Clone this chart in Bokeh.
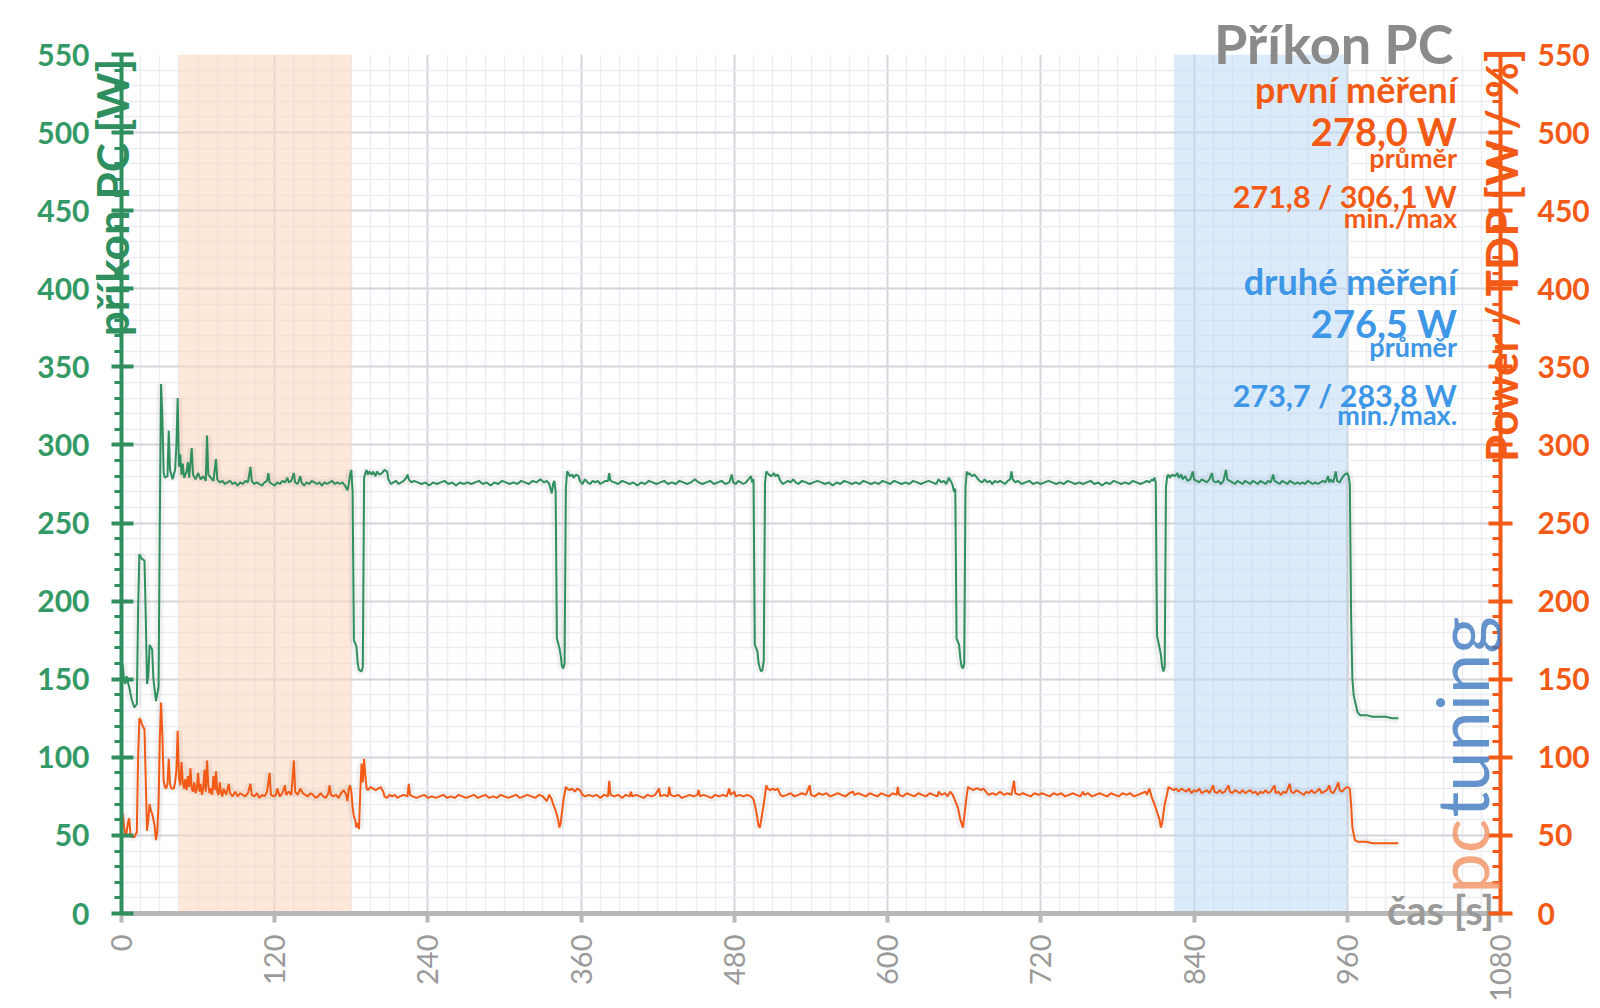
import math
from bokeh.plotting import figure
from bokeh.models import (LinearAxis, Range1d, SingleIntervalTicker, BoxAnnotation, Label)
from bokeh.embed import file_html
from bokeh.resources import INLINE

# ---------------- data ----------------
x_ticks_interval = 120
y_ticks_interval = 50
x_tick_labels = ["0", "120", "240", "360", "480", "600", "720", "840", "960", "1080"]

first_window = [45, 180]      # orange band, "první měření"
second_window = [825, 960]    # blue band, "druhé měření"

pc_t = [
    0, 1, 2, 3, 4, 5, 6, 8, 10, 12,
    13, 14, 16, 18, 19, 20, 21, 22, 24, 25,
    27, 29, 30, 31, 32, 33, 34, 36, 37, 38,
    40, 42, 43, 44, 45, 46, 47, 48, 49, 51,
    52, 53, 55, 56, 58, 60, 62, 64, 66, 67,
    68, 70, 72, 74, 75, 77, 79, 81, 83, 85,
    87, 89, 91, 93, 95, 97, 99, 101, 102, 104,
    106, 108, 110, 112, 114, 115, 116, 118, 120, 122,
    124, 126, 128, 130, 131, 133, 135, 136, 138, 140,
    141, 143, 145, 147, 149, 151, 153, 155, 157, 159,
    161, 163, 165, 167, 169, 171, 173, 175, 177, 178,
    179, 180, 181, 182, 184, 185, 186, 188, 189, 190,
    191, 192, 193, 194, 196, 197, 199, 200, 202, 204,
    206, 208, 209, 211, 213, 215, 217, 219, 221, 223,
    224, 225, 227, 229, 232, 235, 238, 241, 244, 247,
    250, 253, 256, 259, 262, 265, 268, 271, 274, 277,
    280, 283, 286, 289, 292, 295, 298, 301, 304, 307,
    310, 313, 316, 319, 322, 325, 328, 331, 333, 335,
    336, 337, 338, 339, 340, 341, 343, 344, 345, 346,
    347, 348, 349, 350, 351, 353, 354, 356, 358, 359,
    361, 363, 365, 367, 369, 371, 373, 375, 377, 379,
    381, 382, 383, 386, 389, 392, 395, 398, 401, 404,
    407, 410, 413, 416, 419, 422, 425, 428, 431, 434,
    437, 440, 443, 446, 449, 452, 455, 458, 461, 464,
    467, 470, 473, 476, 478, 479, 481, 483, 485, 487,
    489, 491, 493, 494, 495, 496, 498, 499, 500, 501,
    502, 503, 504, 505, 506, 507, 509, 511, 512, 514,
    516, 518, 520, 522, 524, 526, 528, 530, 533, 536,
    539, 542, 545, 548, 551, 554, 557, 560, 563, 566,
    569, 572, 575, 578, 581, 584, 587, 590, 593, 596,
    599, 602, 605, 608, 611, 614, 617, 620, 623, 626,
    629, 632, 635, 638, 640, 642, 644, 646, 648, 650,
    651, 652, 653, 654, 656, 657, 658, 659, 660, 661,
    662, 663, 664, 666, 668, 670, 672, 674, 676, 678,
    680, 682, 684, 686, 688, 690, 692, 694, 696, 697,
    698, 700, 702, 705, 708, 711, 714, 717, 720, 723,
    726, 729, 732, 735, 738, 741, 744, 747, 750, 753,
    756, 759, 762, 765, 768, 771, 774, 777, 780, 783,
    786, 789, 792, 795, 798, 801, 803, 805, 807, 808,
    809, 810, 811, 812, 814, 815, 816, 817, 818, 819,
    820, 821, 823, 825, 827, 828, 830, 831, 833, 835,
    837, 839, 840, 842, 844, 846, 848, 850, 852, 854,
    855, 857, 859, 861, 863, 865, 866, 868, 870, 872,
    874, 876, 878, 880, 882, 884, 886, 888, 890, 892,
    894, 896, 898, 900, 902, 903, 905, 907, 909, 911,
    913, 915, 917, 919, 921, 923, 925, 927, 929, 931,
    933, 935, 937, 939, 941, 943, 945, 946, 947, 949,
    951, 952, 954, 956, 958, 960, 961, 962, 963, 964,
    965, 966, 968, 970, 975, 980, 985, 990, 995, 1000,
]
pc_w = [
    158, 159, 150, 147, 152, 148, 145, 137, 132, 134,
    195, 230, 227, 226, 190, 147, 152, 172, 169, 150,
    136, 145, 250, 339, 318, 282, 279, 280, 309, 284,
    278, 284, 300, 330, 286, 294, 281, 288, 279, 283,
    289, 279, 298, 281, 278, 282, 278, 280, 277, 306,
    281, 279, 277, 291, 278, 276, 277, 275, 276, 277,
    275, 276, 274, 276, 275, 277, 276, 286, 277, 275,
    276, 275, 274, 276, 277, 282, 276, 275, 274, 276,
    275, 277, 276, 279, 276, 277, 282, 276, 275, 280,
    276, 274, 276, 275, 277, 276, 275, 276, 274, 276,
    275, 276, 277, 275, 276, 275, 276, 274, 271, 275,
    281, 284, 270, 175, 171, 160, 156, 155, 158, 279,
    282, 284, 281, 283, 281, 283, 280, 283, 281, 282,
    284, 283, 278, 275, 276, 277, 275, 276, 277, 279,
    281, 278, 276, 277, 276, 275, 276, 274, 276, 275,
    276, 277, 275, 276, 274, 276, 275, 276, 275, 276,
    277, 275, 276, 274, 276, 275, 277, 276, 275, 276,
    275, 277, 276, 275, 277, 276, 278, 276, 277, 275,
    272, 269, 275, 277, 270, 176, 170, 165, 158, 157,
    160, 272, 283, 282, 280, 281, 279, 281, 280, 277,
    275, 278, 276, 275, 277, 276, 277, 275, 276, 277,
    277, 282, 277, 276, 275, 277, 276, 275, 276, 274,
    276, 275, 277, 276, 275, 276, 277, 275, 276, 275,
    277, 276, 275, 276, 278, 276, 275, 276, 277, 275,
    276, 277, 275, 276, 281, 276, 275, 277, 276, 275,
    276, 278, 280, 276, 278, 172, 168, 160, 157, 155,
    156, 162, 276, 283, 282, 281, 280, 282, 280, 281,
    277, 275, 276, 277, 276, 278, 276, 275, 277, 276,
    275, 276, 277, 276, 275, 276, 274, 276, 275, 277,
    276, 275, 276, 275, 277, 276, 275, 276, 275, 277,
    276, 275, 277, 276, 275, 276, 275, 277, 276, 275,
    276, 277, 276, 275, 278, 276, 277, 275, 279, 276,
    274, 270, 272, 176, 172, 163, 158, 157, 160, 273,
    283, 281, 282, 280, 281, 279, 277, 276, 278, 276,
    277, 275, 277, 276, 277, 276, 275, 277, 278, 283,
    278, 276, 277, 275, 276, 277, 275, 276, 275, 276,
    277, 276, 275, 276, 275, 277, 276, 275, 276, 275,
    276, 277, 275, 276, 274, 276, 275, 277, 276, 275,
    276, 275, 277, 276, 275, 276, 277, 276, 278, 277,
    279, 276, 178, 174, 166, 158, 155, 158, 273, 280,
    281, 279, 281, 280, 282, 279, 281, 278, 280, 277,
    278, 283, 278, 277, 276, 278, 277, 276, 278, 282,
    277, 276, 277, 275, 277, 284, 278, 277, 276, 275,
    277, 276, 275, 277, 276, 275, 277, 276, 275, 277,
    276, 275, 277, 276, 281, 277, 276, 275, 277, 276,
    275, 277, 276, 275, 276, 275, 276, 275, 277, 276,
    275, 276, 275, 276, 277, 276, 280, 276, 278, 276,
    283, 277, 276, 279, 281, 282, 280, 275, 190, 150,
    140, 136, 129, 127, 127, 126, 126, 126, 125, 125,
]

tdp_t = [
    0, 1, 2, 3, 4, 5, 6, 7, 8, 10,
    12, 13, 14, 15, 16, 18, 19, 20, 21, 22,
    23, 24, 26, 27, 28, 29, 30, 31, 32, 33,
    34, 35, 36, 37, 38, 39, 41, 42, 43, 44,
    45, 46, 47, 48, 49, 50, 51, 52, 53, 54,
    55, 56, 57, 58, 59, 60, 61, 62, 63, 64,
    65, 66, 67, 68, 69, 70, 71, 72, 73, 74,
    75, 76, 77, 78, 79, 80, 82, 84, 85, 87,
    89, 91, 93, 95, 97, 99, 101, 102, 104, 106,
    108, 110, 112, 114, 116, 117, 119, 121, 122, 124,
    126, 128, 129, 131, 133, 135, 136, 138, 140, 142,
    144, 146, 148, 150, 152, 154, 156, 158, 160, 162,
    163, 164, 166, 168, 170, 172, 174, 176, 177, 178,
    179, 180, 181, 182, 183, 184, 185, 186, 187, 188,
    189, 190, 191, 192, 193, 195, 197, 199, 201, 203,
    205, 206, 208, 210, 212, 214, 216, 218, 221, 224,
    225, 226, 228, 231, 234, 237, 240, 243, 246, 249,
    252, 255, 258, 261, 264, 267, 270, 273, 276, 279,
    282, 285, 288, 291, 294, 297, 300, 303, 306, 309,
    312, 315, 318, 321, 324, 327, 330, 333, 335, 337,
    338, 340, 342, 343, 344, 346, 348, 349, 351, 353,
    355, 357, 359, 361, 363, 366, 369, 372, 375, 378,
    381, 382, 383, 386, 389, 392, 395, 398, 399, 400,
    403, 406, 409, 412, 415, 418, 421, 422, 425, 428,
    429, 430, 433, 436, 439, 442, 445, 448, 451, 452,
    453, 456, 459, 462, 465, 468, 471, 474, 476, 477,
    480, 481, 484, 487, 490, 493, 495, 497, 499, 500,
    501, 503, 505, 506, 508, 510, 512, 514, 516, 518,
    521, 524, 527, 530, 533, 536, 539, 540, 543, 546,
    549, 552, 555, 558, 561, 564, 567, 570, 573, 574,
    577, 580, 583, 586, 589, 592, 595, 598, 601, 604,
    607, 608, 609, 612, 615, 618, 621, 624, 627, 630,
    633, 636, 639, 640, 642, 645, 647, 649, 651, 653,
    655, 657, 659, 660, 662, 663, 665, 667, 669, 671,
    673, 675, 677, 679, 682, 685, 688, 691, 694, 697,
    699, 700, 703, 706, 709, 712, 715, 718, 721, 724,
    727, 730, 733, 736, 739, 742, 745, 748, 751, 753,
    754, 757, 760, 763, 766, 769, 772, 775, 778, 781,
    784, 787, 790, 793, 796, 799, 802, 803, 805, 807,
    809, 811, 813, 814, 815, 817, 819, 820, 822, 824,
    826, 828, 830, 832, 834, 836, 838, 840, 842, 844,
    846, 848, 850, 852, 855, 856, 858, 860, 862, 864,
    867, 868, 870, 872, 874, 876, 878, 880, 882, 884,
    886, 888, 890, 892, 894, 896, 898, 900, 903, 904,
    906, 908, 910, 912, 915, 916, 918, 920, 922, 924,
    926, 928, 930, 932, 934, 936, 938, 940, 942, 944,
    946, 947, 949, 951, 953, 954, 956, 958, 960, 962,
    963, 964, 966, 968, 970, 975, 980, 985, 990, 1000,
]
tdp_w = [
    62, 64, 56, 49, 52, 58, 61, 51, 49, 49,
    52, 100, 125, 124, 121, 118, 85, 53, 60, 70,
    66, 64, 56, 47, 52, 70, 112, 135, 114, 85,
    81, 80, 83, 99, 83, 80, 80, 84, 92, 117,
    87, 82, 97, 84, 80, 86, 79, 88, 81, 93,
    80, 78, 84, 77, 80, 90, 78, 83, 76, 80,
    92, 78, 98, 82, 77, 80, 76, 88, 79, 91,
    78, 76, 84, 77, 75, 80, 76, 83, 77, 75,
    78, 75, 77, 76, 75, 77, 83, 76, 75, 77,
    74, 76, 75, 78, 90, 76, 75, 76, 80, 75,
    77, 82, 76, 78, 76, 98, 78, 76, 80, 77,
    76, 75, 77, 76, 74, 75, 77, 75, 74, 77,
    82, 76, 75, 76, 74, 77, 79, 76, 72, 80,
    82, 78, 68, 62, 60, 55, 58, 54, 78, 96,
    84, 99, 88, 80, 79, 81, 80, 79, 80, 81,
    78, 75, 74, 76, 75, 76, 74, 75, 76, 75,
    83, 76, 75, 74, 75, 76, 74, 75, 74, 75,
    76, 74, 75, 74, 76, 75, 74, 75, 76, 74,
    75, 76, 74, 75, 74, 76, 75, 74, 75, 76,
    74, 75, 76, 75, 74, 76, 75, 72, 76, 73,
    70, 66, 60, 55, 58, 72, 81, 80, 79, 80,
    78, 80, 79, 76, 75, 76, 75, 76, 74, 76,
    75, 85, 76, 75, 76, 74, 76, 75, 78, 75,
    76, 75, 74, 76, 75, 76, 80, 75, 76, 75,
    81, 76, 75, 76, 74, 75, 76, 75, 76, 79,
    75, 76, 75, 74, 76, 75, 76, 75, 80, 76,
    78, 75, 76, 75, 76, 75, 73, 66, 56, 55,
    60, 70, 82, 80, 79, 80, 79, 80, 76, 75,
    76, 77, 75, 76, 77, 76, 82, 76, 75, 77,
    76, 77, 75, 76, 77, 76, 75, 77, 78, 76,
    77, 76, 75, 77, 76, 75, 77, 76, 75, 77,
    76, 81, 76, 75, 77, 76, 75, 77, 76, 75,
    77, 76, 75, 78, 76, 77, 75, 78, 76, 72,
    68, 60, 55, 62, 76, 81, 80, 79, 80, 80,
    79, 80, 78, 76, 77, 76, 78, 76, 77, 76,
    85, 77, 76, 77, 76, 75, 77, 76, 77, 76,
    75, 77, 76, 77, 75, 76, 77, 76, 75, 78,
    76, 77, 75, 76, 77, 76, 75, 77, 76, 75,
    77, 76, 77, 75, 76, 77, 78, 76, 80, 74,
    70, 65, 60, 55, 58, 70, 77, 81, 80, 79,
    80, 78, 80, 79, 78, 80, 77, 79, 78, 80,
    77, 78, 79, 77, 82, 78, 77, 79, 77, 78,
    82, 78, 77, 79, 78, 77, 79, 77, 78, 79,
    77, 78, 76, 78, 77, 79, 77, 78, 82, 77,
    78, 76, 78, 77, 83, 78, 77, 79, 78, 77,
    76, 78, 77, 79, 77, 78, 80, 77, 78, 79,
    82, 78, 77, 80, 84, 79, 78, 80, 81, 80,
    70, 55, 47, 46, 46, 46, 45, 45, 45, 45,
]

# ---------------- styling ----------------
GREEN = "#2f8f5f"
GREEN_TXT = "#339966"
ORANGE = "#f25a16"
BLUE = "#3d97e6"
GRAY = "#8a8a8a"
FONT = "Lato"
EM = "\u2003"   # em space, used to slide an axis title along its axis
EN = "\u2002"   # en space

p = figure(width=1600, height=1008, output_backend="svg", toolbar_location=None,
           x_range=Range1d(0, 1080), y_range=Range1d(0, 550),
           min_border_left=121, min_border_right=100, min_border_top=54, min_border_bottom=95,
           background_fill_color="white", border_fill_color="white", outline_line_color=None)

# chart heading as the figure title, pulled down into the plot corner
p.title.text = "Příkon PC"
p.title.align = "right"
p.title.vertical_align = "bottom"
p.title.offset = 47
p.title.standoff = -42
p.title.text_font = FONT
p.title.text_font_size = "54px"
p.title.text_font_style = "bold"
p.title.text_color = GRAY

xt = SingleIntervalTicker(interval=x_ticks_interval, num_minor_ticks=8)
yt = SingleIntervalTicker(interval=y_ticks_interval, num_minor_ticks=5)
p.xaxis.ticker = xt
p.yaxis.ticker = yt
p.xgrid.ticker = xt
p.ygrid.ticker = yt

for g in (p.xgrid, p.ygrid):
    g.grid_line_color = "#d6d6de"
    g.grid_line_width = 2
    g.minor_grid_line_color = "#ececf1"
    g.minor_grid_line_width = 1.5

# bands
p.add_layout(BoxAnnotation(left=first_window[0], right=first_window[1], fill_color="#fbd9bf",
                           fill_alpha=0.6, line_color=None, level="underlay"))
p.add_layout(BoxAnnotation(left=second_window[0], right=second_window[1], fill_color="#b9d8f6",
                           fill_alpha=0.5, line_color=None, level="underlay"))

# soft shadows + lines
p.line(pc_t, pc_w, line_color="#000000", line_alpha=0.05, line_width=9)
p.line(tdp_t, tdp_w, line_color="#000000", line_alpha=0.05, line_width=9)
p.line(pc_t, pc_w, line_color=GREEN, line_width=2)
p.line(tdp_t, tdp_w, line_color=ORANGE, line_width=2)


def style_axis_label(ax, text, size, color, standoff, align="end"):
    ax.axis_label = text
    ax.axis_label_text_font = FONT
    ax.axis_label_text_font_size = size
    ax.axis_label_text_font_style = "bold"
    ax.axis_label_text_color = color
    ax.axis_label_standoff = standoff
    if "axis_label_align" in ax.properties():
        ax.axis_label_align = align


# bottom axis
xa = p.xaxis[0]
xa.axis_line_color = "#b8b8b8"
xa.axis_line_width = 5
xa.major_tick_line_color = "#b8b8b8"
xa.major_tick_line_width = 4
xa.major_tick_out = 9
xa.major_tick_in = 0
xa.minor_tick_line_color = None
xa.major_label_orientation = math.pi / 2
xa.major_label_standoff = 12
xa.major_label_text_color = "#9a9a9a"
xa.major_label_text_font = FONT
xa.major_label_text_font_size = "29px"
xa.major_label_overrides = {i * x_ticks_interval: s for i, s in enumerate(x_tick_labels)}
style_axis_label(xa, "čas [s]" + EM * 4, "40px", "#9a9a9a", -119)

# left axis
ya = p.yaxis[0]
ya.axis_line_color = GREEN
ya.axis_line_width = 4
ya.major_tick_line_color = GREEN
ya.major_tick_line_width = 4
ya.major_tick_out = 10
ya.major_tick_in = 12
ya.minor_tick_line_color = GREEN
ya.minor_tick_line_width = 3
ya.minor_tick_out = 7
ya.minor_tick_in = 0
ya.major_label_standoff = 22
ya.major_label_text_color = GREEN_TXT
ya.major_label_text_font = FONT
ya.major_label_text_font_style = "bold"
ya.major_label_text_font_size = "30px"
style_axis_label(ya, "příkon PC [W]" + EM * 8 + EN, "44px", GREEN, -104)

# right axis
p.extra_y_ranges = {"right": Range1d(0, 550)}
ra = LinearAxis(y_range_name="right", ticker=yt)
ra.axis_line_color = ORANGE
ra.axis_line_width = 4
ra.major_tick_line_color = ORANGE
ra.major_tick_line_width = 4
ra.major_tick_out = 12
ra.major_tick_in = 12
ra.minor_tick_line_color = ORANGE
ra.minor_tick_line_width = 3
ra.minor_tick_out = 0
ra.minor_tick_in = 8
ra.major_label_standoff = 25
ra.major_label_text_color = ORANGE
ra.major_label_text_font = FONT
ra.major_label_text_font_style = "bold"
ra.major_label_text_font_size = "30px"
rtext = "Power / TDP [W / %]"
if "axis_label_orientation" in ra.properties():
    ra.axis_label_orientation = math.pi / 2
    style_axis_label(ra, EN + rtext, "44px", ORANGE, -92, align="center")
else:
    style_axis_label(ra, rtext, "44px", ORANGE, -111, align="end")
p.add_layout(ra, "right")


def lab(text, x, y, size, color, align="right", baseline="alphabetic", angle=0.0,
        style="bold", alpha=1.0):
    p.add_layout(Label(x=x, y=y, text=text, text_font=FONT, text_font_size=size,
                       text_color=color, text_align=align, text_baseline=baseline,
                       angle=angle, text_font_style=style, text_alpha=alpha))


# logo watermark
lab("pc", 1049, 12.8, "72px", "#f08a55", align="left", baseline="middle",
    angle=math.pi / 2, style="normal", alpha=0.75)
lab("tuning", 1049, 61.5, "72px", "#3f78bf", align="left", baseline="middle",
    angle=math.pi / 2, style="normal", alpha=0.8)

# statistics block
XR = 1046
lab("první měření", XR, 527.6, "36px", ORANGE)
lab("278,0 W", XR, 500.9, "38px", ORANGE)
lab("průměr", XR, 484.1, "27px", ORANGE)
lab("271,8 / 306,1 W", XR, 459.3, "30.5px", ORANGE)
lab("min./max", XR, 445.5, "27px", ORANGE)
lab("druhé měření", XR, 404.9, "36px", BLUE)
lab("276,5 W", XR, 378.1, "38px", BLUE)
lab("průměr", XR, 363.2, "27px", BLUE)
lab("273,7 / 283,8 W", XR, 332.3, "30.5px", BLUE)
lab("min./max.", XR, 319.5, "27px", BLUE)

open("out.html", "w").write(file_html(p, INLINE))
